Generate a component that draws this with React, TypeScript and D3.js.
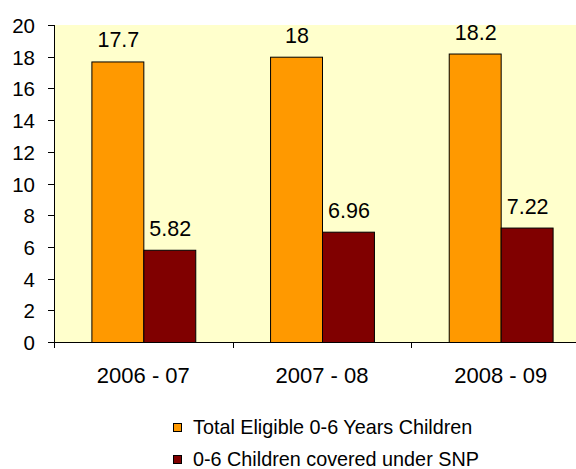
import React from 'react'
import * as d3 from 'd3'

const width = 576
const height = 469
const margin = { left: 54, top: 25, right: -14, bottom: 127 }

const years = ['2006 - 07', '2007 - 08', '2008 - 09']
const totalEligible = [17.7, 18, 18.2]
const coveredSNP = [5.82, 6.96, 7.22]
const yTicks = [0, 2, 4, 6, 8, 10, 12, 14, 16, 18, 20]
const seriesNames = ['Total Eligible 0-6 Years Children', '0-6 Children covered under SNP']
const colors = ['#FF9900', '#800000']

const font = '"Liberation Sans", Arial, sans-serif'

export default function App() {
  const innerW = width - margin.left - margin.right
  const innerH = height - margin.top - margin.bottom

  const x = d3.scaleBand().domain(years).range([0, innerW])
  const inner = d3
    .scaleBand()
    .domain(['0', '1'])
    .range([0, x.bandwidth()])
    .paddingOuter(0.72)
    .paddingInner(0)
  const y = d3.scaleLinear().domain([0, 20]).range([innerH, 0])

  const series = [totalEligible, coveredSNP]

  return (
    <svg
      width={width}
      height={height}
      style={{ position: 'absolute', left: 0, top: 0, overflow: 'hidden', background: '#fff' }}
    >
      <g transform={`translate(${margin.left},${margin.top})`}>
        <rect x={0} y={0} width={innerW} height={innerH} fill="#FFFFCC" />
        {series.map((vals, s) =>
          vals.map((v, i) => {
            const bx = (x(years[i]) ?? 0) + (inner(String(s)) ?? 0)
            const bw = inner.bandwidth()
            return (
              <g key={`${s}-${i}`}>
                <rect
                  x={bx + 0.5}
                  y={y(v) + 0.5}
                  width={bw}
                  height={y(0) - y(v)}
                  fill={colors[s]}
                  stroke="#000"
                  strokeWidth={1}
                />
                <text
                  x={bx + bw / 2 + 1}
                  y={y(v) - 14}
                  textAnchor="middle"
                  fontFamily={font}
                  fontSize={21.5}
                  fill="#000"
                >
                  {v}
                </text>
              </g>
            )
          })
        )}
        <line x1={0.5} x2={0.5} y1={0} y2={innerH} stroke="#000" />
        <line x1={0} x2={innerW} y1={innerH + 0.5} y2={innerH + 0.5} stroke="#000" />
        {yTicks.map((t) => (
          <g key={t} transform={`translate(0,${Math.round(y(t)) + 0.5})`}>
            <line x1={-6} x2={0} stroke="#000" />
            <text x={-19} dy="0.36em" textAnchor="end" fontFamily={font} fontSize={20.5} fill="#000">
              {t}
            </text>
          </g>
        ))}
        {years.map((yr) => (
          <g key={yr}>
            <line
              x1={Math.round(x(yr) ?? 0) + 0.5}
              x2={Math.round(x(yr) ?? 0) + 0.5}
              y1={innerH}
              y2={innerH + 6}
              stroke="#000"
            />
            <text
              x={(x(yr) ?? 0) + x.bandwidth() / 2}
              y={innerH + 41}
              textAnchor="middle"
              fontFamily={font}
              fontSize={22}
              fill="#000"
            >
              {yr}
            </text>
          </g>
        ))}
      </g>
      {seriesNames.map((name, i) => (
        <g key={name} transform={`translate(173,${423 + i * 32})`}>
          <rect x={0.5} y={0.5} width={8} height={8} fill={colors[i]} stroke="#000" />
          <text x={20} y={11} fontFamily={font} fontSize={19.8} fill="#000">
            {name}
          </text>
        </g>
      ))}
    </svg>
  )
}
